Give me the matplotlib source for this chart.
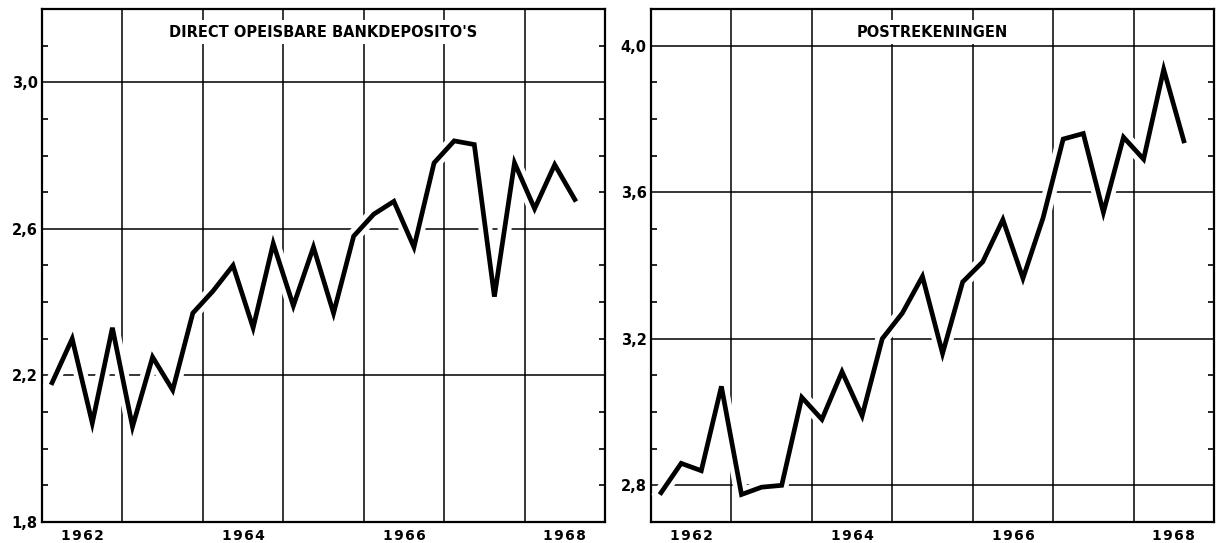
#!/usr/bin/env python
# -*- coding: utf-8 -*-

""" Direct opeisbare bankdeposito's en postrekeningen, 1962-1968 (kwartaalcijfers)

"""

import matplotlib
matplotlib.use('Agg')
import matplotlib.pyplot as plt
import matplotlib.patheffects as pe
import numpy as np

# kwartalen 1962 Q1 .. 1968 Q3
quarters = ['1962Q1', '1962Q2', '1962Q3', '1962Q4',
            '1963Q1', '1963Q2', '1963Q3', '1963Q4',
            '1964Q1', '1964Q2', '1964Q3', '1964Q4',
            '1965Q1', '1965Q2', '1965Q3', '1965Q4',
            '1966Q1', '1966Q2', '1966Q3', '1966Q4',
            '1967Q1', '1967Q2', '1967Q3', '1967Q4',
            '1968Q1', '1968Q2', '1968Q3']

bank = [2.18, 2.30, 2.07, 2.33, 2.06, 2.25, 2.16, 2.37,
        2.43, 2.50, 2.33, 2.56, 2.39, 2.55, 2.37, 2.58,
        2.64, 2.675, 2.55, 2.78, 2.84, 2.83, 2.415, 2.78,
        2.655, 2.775, 2.68]

post = [2.78, 2.86, 2.84, 3.07, 2.775, 2.795, 2.80, 3.04,
        2.98, 3.11, 2.99, 3.20, 3.27, 3.37, 3.16, 3.355,
        3.41, 3.525, 3.365, 3.53, 3.745, 3.76, 3.545, 3.75,
        3.69, 3.935, 3.74]

titles = ["DIRECT OPEISBARE BANKDEPOSITO'S", "POSTREKENINGEN"]
ylims = [(1.8, 3.2), (2.7, 4.1)]
yticks_left = [1.8, 2.2, 2.6, 3.0]
yticks_right = [2.8, 3.2, 3.6, 4.0]
year_labels = ['1962', '1964', '1966', '1968']
year_pos = [1962.5, 1964.5, 1966.5, 1968.5]


def quarter_x(q):
    year, n = int(q[:4]), int(q[5])
    return year + (n - 0.5) / 4.0


def spaced(s):
    return '\u200a'.join(s)


def draw_panel(ax, y, title, ylim, yticks):
    x = [quarter_x(q) for q in quarters]

    ax.set_xlim(1962, 1969)
    ax.set_ylim(*ylim)

    # raster: jaargrenzen en hoofdlijnen
    for yr in range(1963, 1969):
        ax.axvline(yr, color='black', lw=1.1, zorder=1)
    for yv in yticks:
        ax.axhline(yv, color='black', lw=1.1, zorder=1)

    ax.plot(x, y, color='black', lw=3.4, solid_joinstyle='miter', zorder=3,
            path_effects=[pe.Stroke(linewidth=10, foreground='white', joinstyle='round'),
                          pe.Normal()])

    ax.set_yticks(yticks)
    ax.set_yticklabels([('%.1f' % v).replace('.', ',') for v in yticks],
                       fontsize=10.5, fontweight='bold')
    ax.set_yticks(np.arange(ylim[0], ylim[1] + 0.001, 0.1), minor=True)
    ax.tick_params(axis='y', which='major', length=0, pad=3)
    ax.tick_params(axis='y', which='minor', direction='in', length=4, width=1.2,
                   left=True, right=True)

    ax.set_xticks(year_pos)
    ax.set_xticklabels([spaced(s) for s in year_labels], fontsize=10, fontweight='bold')
    ax.tick_params(axis='x', length=0, pad=5)

    for s in ax.spines.values():
        s.set_linewidth(1.6)

    ax.text(0.5, 0.955, title, transform=ax.transAxes, ha='center', va='center',
            fontsize=10.5, fontweight='bold', family=['Liberation Sans Narrow', 'DejaVu Sans'],
            zorder=4, bbox=dict(facecolor='white', edgecolor='none', pad=3))


def main():
    fig = plt.figure(figsize=(12.18, 5.43), dpi=100)
    ax1 = fig.add_axes([0.0345, 0.0387, 0.4622, 0.9448])
    ax2 = fig.add_axes([0.5345, 0.0387, 0.4622, 0.9448])

    draw_panel(ax1, bank, titles[0], ylims[0], yticks_left)
    draw_panel(ax2, post, titles[1], ylims[1], yticks_right)

    fig.savefig('out.png', dpi=100)


if __name__ == '__main__':
    main()
